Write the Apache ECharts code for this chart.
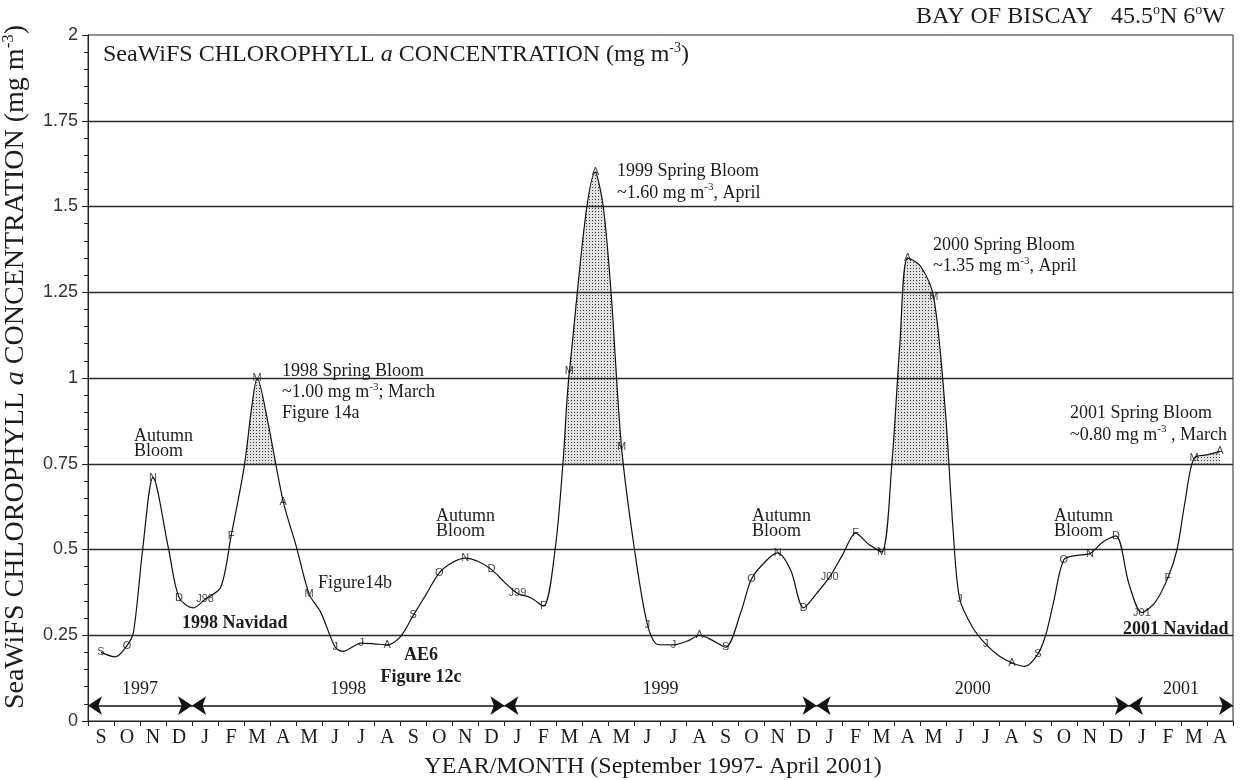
<!DOCTYPE html>
<html><head><meta charset="utf-8">
<script src="https://cdn.jsdelivr.net/npm/echarts@6/dist/echarts.min.js"></script>
<style>html,body{margin:0;padding:0;background:#fff}#chart{width:1240px;height:780px}</style>
</head><body><div id="chart"></div>
<script>
// ---------------- data ----------------
const monthLabels = ['S','O','N','D','J','F','M','A','M','J','J','A','S','O','N','D','J','F','M','A','M','J','J','A','S','O','N','D','J','F','M','A','M','J','J','A','S','O','N','D','J','F','M','A'];
const markerLabels = ['S','O','N','D','J98','F','M','A','M','J','J','A','S','O','N','D','J99','F','M','A','M','J','J','A','S','O','N','D','J00','F','M','A','M','J','J','A','S','O','N','D','J01','F','M','A'];
// chlorophyll value at each monthly marker (Sep 1997 .. Apr 2001)
const monthValues = [
  0.20, 0.22, 0.71, 0.36, 0.355, 0.54, 1.00, 0.64, 0.37, 0.215, 0.227, 0.222,
  0.308, 0.432, 0.475, 0.442, 0.372, 0.335, 1.02, 1.60, 0.80, 0.28, 0.222, 0.25,
  0.215, 0.415, 0.49, 0.33, 0.42, 0.548, 0.493, 1.35, 1.235, 0.355, 0.224, 0.17,
  0.195, 0.47, 0.488, 0.54, 0.316, 0.418, 0.766, 0.786
];
// additional points read between markers: [month index, value]
const detailPoints = [
  [0.55,0.187],[1.25,0.26],[1.6,0.5],[2.6,0.5],[3.55,0.33],[4.6,0.39],[5.5,0.74],[5.8,0.92],
  [6.4,0.876],[7.5,0.51],[8.45,0.316],[9.3,0.203],[10.5,0.225],[11.5,0.245],[12.5,0.37],
  [13.5,0.462],[14.5,0.465],[15.5,0.405],[16.5,0.36],[17.45,0.5],[17.75,0.75],[19.3,1.5],
  [19.6,1.25],[20.5,0.5],[21.4,0.223],[22.6,0.235],[23.5,0.235],[24.6,0.32],[25.6,0.47],
  [26.5,0.44],[27.5,0.372],[28.5,0.485],[29.5,0.515],[30.4,0.76],[30.7,1.1],[31.5,1.325],
  [32.45,0.9],[32.75,0.55],[33.5,0.272],[34.5,0.19],[35.5,0.159],[36.3,0.25],[36.6,0.345],
  [37.5,0.483],[38.5,0.522],[39.5,0.4],[40.5,0.345],[41.35,0.5],[41.65,0.636],[42.5,0.776]
];
const yearNames = ['1997','1998','1999','2000','2001'];
const yearStarts = [0, 4, 16, 28, 40];
const yearEnds = [4, 16, 28, 40, 44];
const gridValues = [0.25, 0.5, 0.75, 1, 1.25, 1.5, 1.75];
const bloomLevel = 0.75;

// ---------------- build ----------------
const SERIF = '"Liberation Serif","Times New Roman",serif';
const SANS = '"Liberation Sans",Arial,sans-serif';
const INK = '#1c1c1c';

const linePoints = monthValues.map((v, i) => [i + 0.5, v])
  .concat(detailPoints.map(d => [d[0] + 0.5, d[1]]))
  .sort((a, b) => a[0] - b[0]);
const markerPoints = monthValues.map((v, i) => [i + 0.5, v]);

const pc = document.createElement('canvas');
pc.width = 3; pc.height = 3;
const pctx = pc.getContext('2d');
pctx.fillStyle = '#e2e2e2'; pctx.fillRect(0, 0, 3, 3);
pctx.fillStyle = '#3a3a3a'; pctx.fillRect(1, 1, 1, 1);

function rich(fs, bold) {
  const w = bold ? 'bold' : 'normal';
  const lh = Math.round(fs * 1.17);
  return {
    a: {fontFamily: SERIF, fontSize: fs, fontWeight: w, fill: INK, lineHeight: lh},
    i: {fontFamily: SERIF, fontSize: fs, fontStyle: 'italic', fill: INK, lineHeight: lh},
    s: {fontFamily: SERIF, fontSize: Math.round(fs * 0.6), fill: INK, verticalAlign: 'top', lineHeight: Math.round(fs * 0.6)}
  };
}
function txt(x, y, text, fs, opt) {
  opt = opt || {};
  const r = rich(fs, opt.bold);
  if (opt.lh) { r.a.lineHeight = opt.lh; r.i.lineHeight = opt.lh; }
  return {
    type: 'text', x: x, y: y, z: 100, silent: true,
    scaleX: opt.sx || 1,
    style: {text: text, rich: r, fill: INK, fontFamily: SERIF, fontSize: fs,
      align: opt.align || 'left', verticalAlign: 'middle'}
  };
}

const option = {
  animation: false,
  backgroundColor: '#fff',
  grid: {left: 88, right: 7, top: 35, bottom: 59, outerBoundsMode: 'none', containLabel: false,
    show: true, borderColor: '#222', borderWidth: 1, z: 9, backgroundColor: 'transparent'},
  xAxis: [
    {type: 'category', data: monthLabels, boundaryGap: true, z: 9,
      axisLine: {lineStyle: {color: '#222', width: 1}},
      axisTick: {show: true, length: 5, interval: 0, lineStyle: {color: '#222'}},
      axisLabel: {interval: 0, margin: 7, fontFamily: SERIF, fontSize: 20, color: INK},
      splitLine: {show: false},
      name: 'YEAR/MONTH (September 1997- April 2001)', nameLocation: 'middle', nameGap: 34,
      nameTextStyle: {fontFamily: SERIF, fontSize: 24, color: INK, padding: [0, 15, 0, 0]}},
    {type: 'value', min: 0, max: 44, show: false}
  ],
  yAxis: {type: 'value', min: 0, max: 2, interval: 0.25, z: 9,
    axisLine: {show: true, lineStyle: {color: '#222'}},
    axisTick: {show: true, length: 6, lineStyle: {color: '#222'}},
    minorTick: {show: true, splitNumber: 5, length: 4, lineStyle: {color: '#222'}},
    axisLabel: {margin: 10, fontFamily: SANS, fontSize: 18, color: '#333'},
    splitLine: {show: false},
    name: 'SeaWiFS CHLOROPHYLL {i|a} CONCENTRATION (mg m{s|-3})',
    nameLocation: 'middle', nameGap: 52, nameRotate: 90,
    nameTextStyle: {fontFamily: SERIF, fontSize: 28, color: INK, lineHeight: 32, padding: [0, 0, 0, 22],
      rich: {i: {fontFamily: SERIF, fontSize: 28, fontStyle: 'italic', color: INK, lineHeight: 32},
             s: {fontFamily: SERIF, fontSize: 17, color: INK, verticalAlign: 'top', lineHeight: 17}}}
  },
  series: [
    {name: 'bloomFill', type: 'line', xAxisIndex: 1, data: linePoints, smooth: 0.3,
      symbol: 'none', silent: true, z: 1,
      lineStyle: {width: 0, opacity: 0},
      areaStyle: {color: {image: pc, repeat: 'repeat'}, opacity: 1},
      markArea: {silent: true, z: 3, itemStyle: {color: '#fff', opacity: 1},
        data: [[{yAxis: 0}, {yAxis: bloomLevel}]]}},
    {name: 'chl', type: 'line', xAxisIndex: 1, data: linePoints, smooth: 0.3,
      symbol: 'none', z: 6,
      lineStyle: {color: '#111', width: 1.2},
      markLine: {silent: true, z: 4, symbol: ['none', 'none'], animation: false,
        lineStyle: {color: '#2a2a2a', width: 1.4, type: 'solid'}, label: {show: false},
        data: gridValues.map(v => ({yAxis: v}))}},
    {name: 'markers', type: 'scatter', xAxisIndex: 1, data: markerPoints, z: 7,
      symbolSize: 1, itemStyle: {color: 'rgba(0,0,0,0)'},
      label: {show: true, position: 'inside', fontFamily: SANS, fontSize: 11, color: '#111',
        formatter: p => markerLabels[p.dataIndex]},
      markLine: {silent: true, z: 5, symbol: ['arrow', 'arrow'], symbolSize: 14,
        lineStyle: {color: '#111', width: 1.5, type: 'solid'},
        label: {show: true, position: 'insideMiddleTop', distance: 7, fontFamily: SERIF, fontSize: 18, color: INK,
          formatter: p => p.name},
        data: yearNames.map((n, k) => [{name: n, coord: [yearStarts[k], 0.045]}, {coord: [yearEnds[k], 0.045]}])}}
  ],
  graphic: [
    txt(103, 55, '{a|SeaWiFS CHLOROPHYLL }{i|a}{a| CONCENTRATION (mg m}{s|-3}{a|)}', 24),
    txt(1225, 17, '{a|BAY OF BISCAY   45.5}{s|o}{a|N 6}{s|o}{a|W}', 24, {align: 'right'}),
    txt(134, 444, '{a|Autumn}\n{a|Bloom}', 18, {lh: 15}),
    txt(436, 524, '{a|Autumn}\n{a|Bloom}', 18, {lh: 15}),
    txt(752, 524, '{a|Autumn}\n{a|Bloom}', 18, {lh: 15}),
    txt(1054, 524, '{a|Autumn}\n{a|Bloom}', 18, {lh: 15}),
    txt(282, 392, '{a|1998 Spring Bloom}\n{a|~1.00 mg m}{s|-3}{a|; March}\n{a|Figure 14a}', 18, {lh: 21}),
    txt(318, 583, '{a|Figure14b}', 18),
    txt(182, 623, '{a|1998 Navidad}', 18, {bold: true}),
    txt(421, 666, '{a|AE6}\n{a|Figure 12c}', 18, {bold: true, lh: 22, align: 'center'}),
    txt(617, 182, '{a|1999 Spring Bloom}\n{a|~1.60 mg m}{s|-3}{a|, April}', 18, {lh: 22}),
    txt(933, 256, '{a|2000 Spring Bloom}\n{a|~1.35 mg m}{s|-3}{a|, April}', 18, {lh: 21}),
    txt(1070, 424, '{a|2001 Spring Bloom}\n{a|~0.80 mg m}{s|-3}{a| , March}', 18, {lh: 22}),
    txt(1123, 629, '{a|2001 Navidad}', 18, {bold: true})
  ]
};
const chart = echarts.init(document.getElementById('chart'), null, {renderer: 'canvas'});
chart.setOption(option);
</script></body></html>
